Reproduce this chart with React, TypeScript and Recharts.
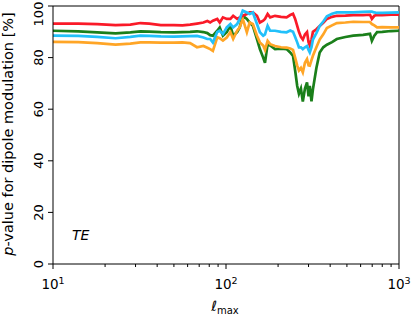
import React from "react";
import { LineChart, Line, XAxis, YAxis, ReferenceLine } from "recharts";

// l_max sample points and p-values [%]
const ELL = [
  10, 14, 18, 23, 28, 32, 36, 42, 50, 56, 62, 68, 74, 78,
  81, 84, 89, 92, 96, 101, 106, 110, 116, 120, 125, 132, 137, 143, 151, 157, 164, 168, 174, 180, 192,
  208, 224, 235, 244, 251, 258, 264, 271, 278, 286, 294, 300, 305, 312, 318, 333, 348, 365, 383,
  410, 437, 490, 544, 620, 680, 697, 720, 747, 800, 900, 1000,
];
const RED = [
  93.2, 93.2, 93.0, 92.6, 92.8, 93.4, 93.2, 92.6, 92.6, 92.5, 92.8, 93.2, 93.6, 94.2,
  93.6, 94.3, 95.0, 93.6, 95.6, 95.0, 95.0, 96.2, 95.0, 95.6, 96.2, 96.9, 97.5, 97.5, 96.2, 93.6, 94.3, 95.0, 96.9, 95.6, 96.2,
  95.8, 95.6, 96.5, 97.0, 95.0, 92.3, 90.0, 88.0, 87.0, 89.0, 89.9, 86.0, 84.7, 87.0, 90.0, 91.0, 92.3, 93.5, 95.0,
  95.8, 96.2, 96.3, 96.5, 96.5, 96.6, 95.0, 96.2, 96.5, 96.5, 96.6, 96.6,
];
const GREEN = [
  90.4, 90.2, 89.8, 89.4, 89.8, 90.2, 90.1, 89.9, 89.8, 89.9, 90.0, 90.2, 89.9, 89.5,
  88.7, 88.5, 90.4, 91.7, 88.5, 89.9, 92.3, 88.5, 89.9, 91.7, 96.2, 95.0, 93.6, 92.3, 87.2, 83.3, 80.0, 78.0, 85.2, 84.7, 83.3,
  83.5, 83.3, 82.0, 80.7, 75.0, 69.0, 66.0, 68.0, 63.0, 68.0, 70.4, 65.0, 69.0, 63.0, 67.7, 76.0, 82.0, 84.0, 85.0,
  86.0, 87.2, 88.0, 88.5, 88.8, 89.2, 86.5, 88.5, 89.9, 90.0, 90.3, 90.4,
];
const BLUE = [
  88.5, 88.4, 88.0, 87.5, 88.0, 88.5, 88.4, 88.2, 88.1, 88.2, 88.3, 88.4, 87.8, 87.2,
  87.2, 85.8, 89.9, 90.4, 89.1, 91.7, 93.0, 91.7, 93.0, 95.0, 98.2, 97.5, 96.9, 97.5, 93.0, 89.8, 88.5, 89.0, 92.3, 90.4, 90.4,
  90.0, 89.8, 90.5, 90.0, 88.0, 85.9, 84.0, 84.0, 83.3, 84.0, 84.5, 83.0, 82.0, 84.0, 87.0, 89.5, 92.3, 94.0, 96.0,
  97.0, 97.5, 97.5, 97.5, 97.7, 97.8, 97.8, 97.5, 97.3, 97.3, 97.4, 97.5,
];
const ORANGE = [
  86.1, 86.0, 85.6, 85.0, 85.4, 85.9, 85.9, 85.8, 85.8, 85.9, 85.6, 84.0, 84.5, 83.8,
  83.3, 82.6, 87.9, 87.5, 86.6, 87.8, 89.9, 87.2, 90.4, 91.7, 95.0, 89.8, 93.6, 93.0, 88.5, 85.9, 84.7, 83.0, 86.5, 85.2, 84.5,
  84.0, 83.9, 83.5, 83.0, 80.0, 76.9, 75.0, 76.0, 74.3, 78.0, 79.4, 77.0, 76.9, 79.0, 80.7, 84.0, 87.0, 89.0, 91.5,
  92.5, 93.4, 93.6, 93.9, 93.8, 93.8, 93.0, 92.5, 91.7, 91.8, 91.7, 91.7,
];

const X_TICKS = [10, 20, 30, 40, 50, 60, 70, 80, 90, 100, 200, 300, 400, 500, 600, 700, 800, 900, 1000];
const X_MAJOR: Record<number, string> = { 10: "1", 100: "2", 1000: "3" };
const Y_TICKS = [0, 20, 40, 60, 80, 100];

const data = ELL.map((ell, i) => ({
  ell,
  red: RED[i],
  green: GREEN[i],
  blue: BLUE[i],
  orange: ORANGE[i],
}));

const FONT = "DejaVu Sans";

const XTick = (props: any) => {
  const { x, y, payload } = props;
  const exp = X_MAJOR[payload.value];
  return (
    <g>
      <line x1={x} x2={x} y1={y} y2={y + (exp ? 5 : 3)} stroke="#000" strokeWidth={1} />
      {exp && (
        <text x={x} y={y + 25} textAnchor="middle" fontFamily={FONT} fontSize={13.5} fill="#000">
          10
          <tspan dy={-5.5} fontSize={9.5}>
            {exp}
          </tspan>
        </text>
      )}
    </g>
  );
};

const YTick = (props: any) => {
  const { x, y, payload } = props;
  const cy = Math.max(y, 14);
  return (
    <g>
      <line x1={x - 5} x2={x} y1={y} y2={y} stroke="#000" strokeWidth={1} />
      <text
        x={0}
        y={0}
        transform={`translate(${x - 10}, ${cy}) rotate(-90)`}
        textAnchor="middle"
        fontFamily={FONT}
        fontSize={13}
        fill="#000"
      >
        {payload.value}
      </text>
    </g>
  );
};

const App = () => {
  return (
    <div style={{ position: "absolute", left: 0, top: 0, width: 411, height: 316, background: "#fff" }}>
      <LineChart width={411} height={316} data={data} margin={{ top: 6, right: 12, left: 0, bottom: 0 }}>
        <XAxis
          dataKey="ell"
          type="number"
          scale="log"
          domain={[10, 1000]}
          allowDataOverflow
          ticks={X_TICKS}
          interval={0}
          tick={<XTick />}
          tickLine={false}
          tickSize={0}
          tickMargin={0}
          height={52}
          stroke="#000"
        />
        <YAxis
          type="number"
          domain={[0, 100]}
          ticks={Y_TICKS}
          interval={0}
          tick={<YTick />}
          tickLine={false}
          tickSize={0}
          tickMargin={0}
          width={53}
          stroke="#000"
        />
        <ReferenceLine y={100} stroke="#000" strokeWidth={1} />
        <ReferenceLine x={1000} stroke="#000" strokeWidth={1} />
        <Line dataKey="green" stroke="#1a7f1a" strokeWidth={2.7} dot={false} type="linear" isAnimationActive={false} />
        <Line dataKey="orange" stroke="#ffa526" strokeWidth={2.7} dot={false} type="linear" isAnimationActive={false} />
        <Line dataKey="red" stroke="#fa1a28" strokeWidth={2.7} dot={false} type="linear" isAnimationActive={false} />
        <Line dataKey="blue" stroke="#22c0fa" strokeWidth={2.7} dot={false} type="linear" isAnimationActive={false} />
      </LineChart>
      <svg width={411} height={316} style={{ position: "absolute", left: 0, top: 0, pointerEvents: "none" }}>
        <text
          transform="translate(13, 134) rotate(-90)"
          textAnchor="middle"
          fontFamily={FONT}
          fontSize={14.5}
          fill="#000"
        >
          <tspan fontStyle="italic">p</tspan>-value for dipole modulation [%]
        </text>
        <text x={225} y={311} textAnchor="middle" fontFamily={FONT} fontSize={14} fill="#000">
          <tspan fontStyle="italic">ℓ</tspan>
          <tspan dy={3} fontSize={10}>
            max
          </tspan>
        </text>
        <text x={72} y={240} fontFamily={FONT} fontSize={14} fontStyle="italic" fill="#000">
          TE
        </text>
      </svg>
    </div>
  );
};

export default App;
